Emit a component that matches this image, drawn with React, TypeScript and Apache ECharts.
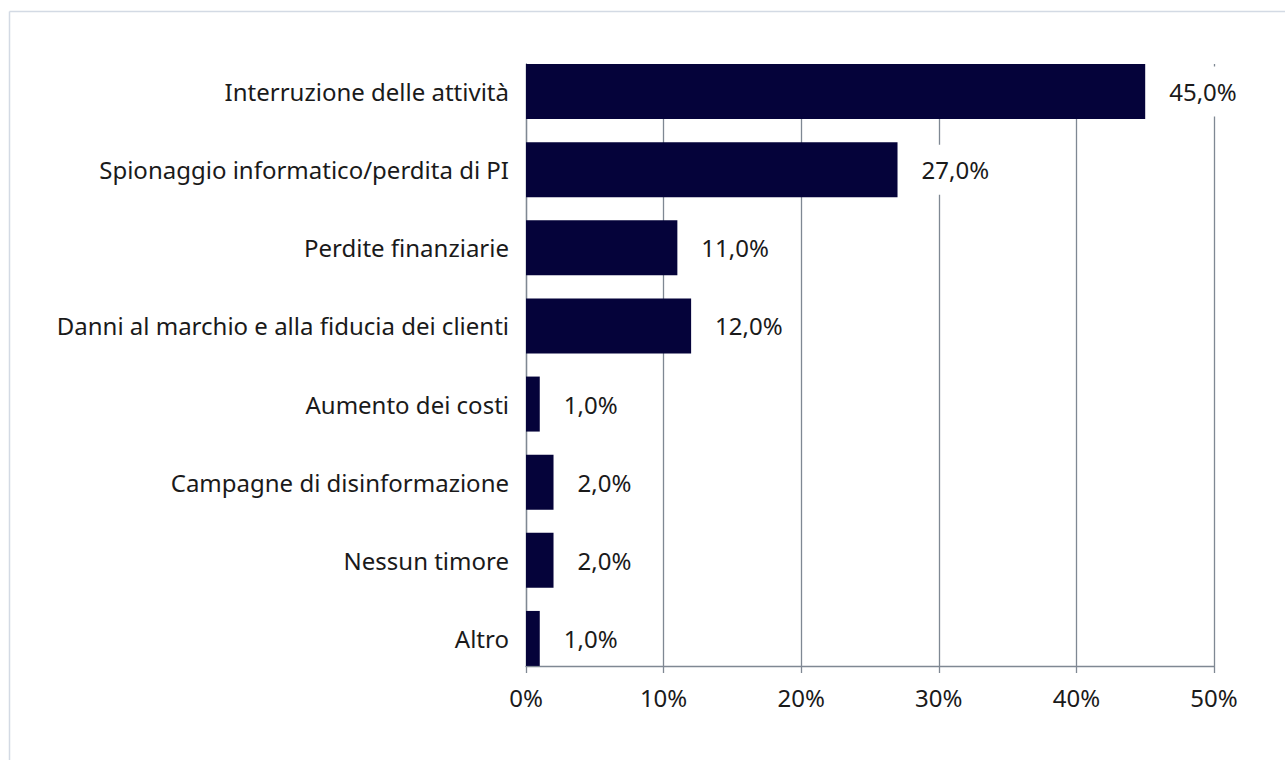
import React, { useEffect, useRef } from "react";
import * as echarts from "echarts";

const categories = [
  "Interruzione delle attività",
  "Spionaggio informatico/perdita di PI",
  "Perdite finanziarie",
  "Danni al marchio e alla fiducia dei clienti",
  "Aumento dei costi",
  "Campagne di disinformazione",
  "Nessun timore",
  "Altro",
];
const values = [45, 27, 11, 12, 1, 2, 2, 1];
const axisMin = 0;
const axisMax = 50;
const axisStep = 10;

const FONT = "'Noto Sans', sans-serif";
const TEXT = "#1a1a1a";
const GRID = "#7f8893";
const BAR = "#05033a";
const FS = 24;

export default function App() {
  const ref = useRef<HTMLDivElement>(null);
  useEffect(() => {
    if (!ref.current) return;
    const chart = echarts.init(ref.current, undefined, { renderer: "svg" });
    chart.setOption({
      animation: false,
      backgroundColor: "#ffffff",
      textStyle: { fontFamily: FONT },
      grid: [
        { left: 526, right: 71, top: 64, bottom: 94, containLabel: false },
        { left: 526, right: 71, top: 52.5, bottom: 82.5, containLabel: false },
      ],
      xAxis: [
        {
          gridIndex: 0,
          type: "value",
          min: axisMin,
          max: axisMax,
          interval: axisStep,
          axisLine: { show: true, lineStyle: { color: GRID, width: 1.3 } },
          axisTick: { show: true, length: 7, lineStyle: { color: GRID, width: 1.3 } },
          splitLine: { show: true, lineStyle: { color: GRID, width: 1.3 } },
          axisLabel: {
            margin: 19,
            color: TEXT,
            fontSize: FS,
            fontFamily: FONT,
            formatter: (v: number) => `${v}%`,
          },
        },
        {
          gridIndex: 1,
          type: "value",
          min: axisMin,
          max: axisMax,
          show: false,
        },
      ],
      yAxis: [
        {
          gridIndex: 0,
          type: "value",
          min: 0,
          max: 1,
          axisLine: { show: true, lineStyle: { color: GRID, width: 1.3 } },
          axisTick: { show: false },
          axisLabel: { show: false },
          splitLine: { show: false },
        },
        {
          gridIndex: 1,
          type: "category",
          inverse: true,
          data: categories,
          axisLine: { show: false },
          axisTick: { show: false },
          splitLine: { show: false },
          axisLabel: {
            margin: 17,
            color: TEXT,
            fontSize: FS,
            fontFamily: FONT,
          },
        },
      ],
      series: [
        {
          type: "bar",
          xAxisIndex: 1,
          yAxisIndex: 1,
          data: values,
          barWidth: 55,
          itemStyle: { color: BAR },
          label: {
            show: true,
            position: "right",
            distance: 18,
            padding: [13, 6],
            backgroundColor: "#ffffff",
            color: TEXT,
            fontSize: FS,
            fontFamily: FONT,
            formatter: (p: any) => `${Number(p.value).toFixed(1).replace(".", ",")}%`,
          },
        },
      ],
      graphic: [
        {
          type: "line",
          shape: { x1: 9.5, y1: 11.5, x2: 1285, y2: 11.5 },
          style: { stroke: "#d3dae4", lineWidth: 1.5 },
        },
        {
          type: "line",
          shape: { x1: 9.5, y1: 11.5, x2: 9.5, y2: 760 },
          style: { stroke: "#d3dae4", lineWidth: 1.5 },
        },
      ],
    });
    return () => chart.dispose();
  }, []);
  return (
    <div
      ref={ref}
      style={{ position: "fixed", left: 0, top: 0, width: 1285, height: 760 }}
    />
  );
}
